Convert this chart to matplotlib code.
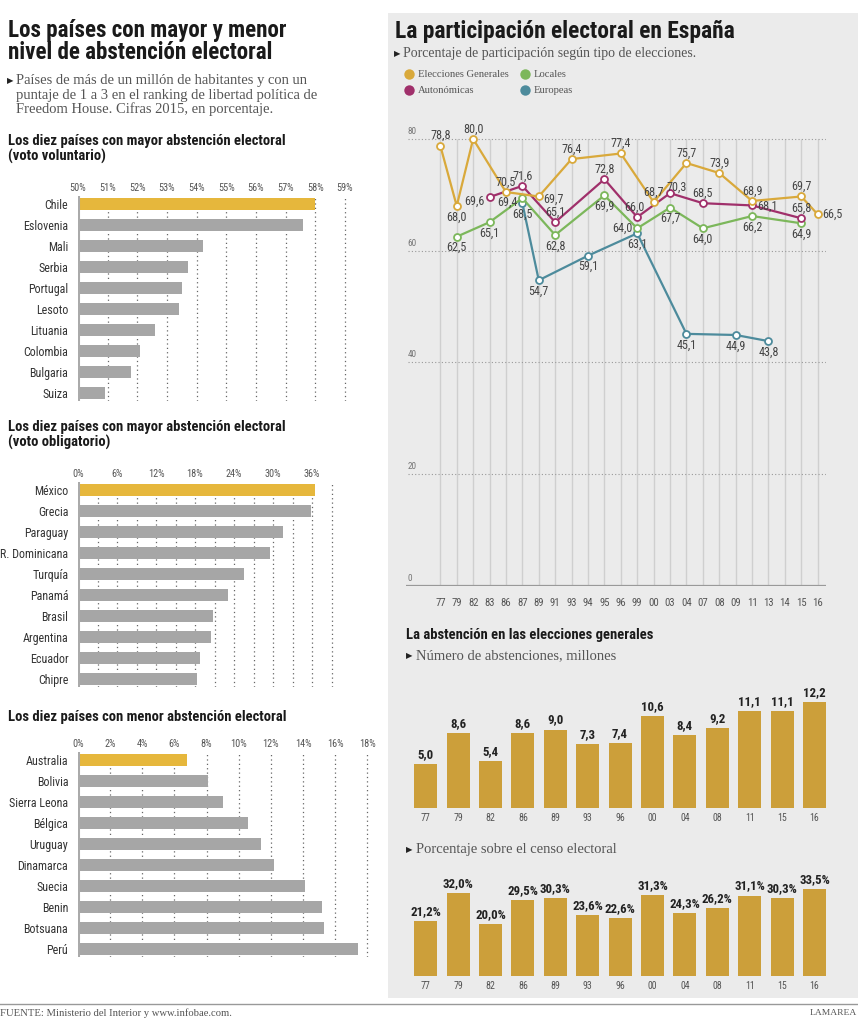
import matplotlib
matplotlib.use("Agg")
import matplotlib.pyplot as plt
from matplotlib.patches import Rectangle

W, H = 858, 1024

# ---- datos: paises (porcentaje de abstencion 2015)
vol_paises = ["Chile", "Eslovenia", "Mali", "Serbia", "Portugal", "Lesoto",
              "Lituania", "Colombia", "Bulgaria", "Suiza"]
vol_valores = [58.0, 57.6, 54.2, 53.7, 53.5, 53.4, 52.6, 52.1, 51.8, 50.9]

obl_paises = ["México", "Grecia", "Paraguay", "R. Dominicana", "Turquía",
              "Panamá", "Brasil", "Argentina", "Ecuador", "Chipre"]
obl_valores = [36.5, 35.9, 31.6, 29.6, 25.6, 23.0, 20.8, 20.5, 18.7, 18.3]

men_paises = ["Australia", "Bolivia", "Sierra Leona", "Bélgica", "Uruguay",
              "Dinamarca", "Suecia", "Benin", "Botsuana", "Perú"]
men_valores = [6.8, 8.1, 9.0, 10.6, 11.4, 12.2, 14.1, 15.2, 15.3, 17.4]

# ---- datos: participacion en España
anios = ["77", "79", "82", "83", "86", "87", "89", "91", "93", "94", "95", "96",
         "99", "00", "03", "04", "07", "08", "09", "11", "13", "14", "15", "16"]
gen_anios = ["77", "79", "82", "86", "89", "93", "96", "00", "04", "08", "11", "15", "16"]
gen_valores = [78.8, 68.0, 80.0, 70.5, 69.7, 76.4, 77.4, 68.7, 75.7, 73.9, 68.9, 69.7, 66.5]
aut_anios = ["83", "87", "91", "95", "99", "03", "07", "11", "15"]
aut_valores = [69.6, 71.6, 65.1, 72.8, 66.0, 70.3, 68.5, 68.1, 65.8]
loc_anios = ["79", "83", "87", "91", "95", "99", "03", "07", "11", "15"]
loc_valores = [62.5, 65.1, 69.4, 62.8, 69.9, 64.0, 67.7, 64.0, 66.2, 64.9]
eur_anios = ["87", "89", "94", "99", "04", "09", "13"]
eur_valores = [68.5, 54.7, 59.1, 63.1, 45.1, 44.9, 43.8]

# ---- datos: abstencion en generales
abs_anios = ["77", "79", "82", "86", "89", "93", "96", "00", "04", "08", "11", "15", "16"]
abs_millones = [5.0, 8.6, 5.4, 8.6, 9.0, 7.3, 7.4, 10.6, 8.4, 9.2, 11.1, 11.1, 12.2]
abs_porcentaje = [21.2, 32.0, 20.0, 29.5, 30.3, 23.6, 22.6, 31.3, 24.3, 26.2, 31.1, 30.3, 33.5]

COND = ["Roboto Condensed", "Liberation Sans Narrow", "Roboto", "DejaVu Sans"]
SERIF = ["Liberation Serif", "DejaVu Serif"]
AMARILLO = "#e6b73c"
GRIS = "#a6a6a6"
ORO = "#cc9f3a"
C_GEN, C_AUT, C_LOC, C_EUR = "#d9a93b", "#a0306b", "#7cb75b", "#4d8b9c"

fig = plt.figure(figsize=(W / 100, H / 100), dpi=100, facecolor="white")
renderer = fig.canvas.get_renderer()


def tam(muestra, ancho, family=COND, weight="normal"):
    # tamaño de letra para que 'muestra' mida 'ancho' pixeles
    t = fig.text(0, 0, muestra, fontsize=10, family=family, fontweight=weight)
    w = t.get_window_extent(renderer).width
    t.remove()
    return 10 * ancho / w


# tamaños
T_TIT = tam("Los países con mayor y menor", 279, weight="bold")
T_TIT_D = tam("La participación electoral en España", 340, weight="bold")
T_SEC = tam("Los diez países con mayor abstención electoral", 278, weight="bold")
T_SEC_D = tam("La abstención en las elecciones generales", 248, weight="bold")
T_SUB = tam("Países de más de un millón de habitantes y con un", 293, family=SERIF)
T_SUB_D = tam("Porcentaje de participación según tipo de elecciones.", 292, family=SERIF)
T_SUB_B = tam("Número de abstenciones, millones", 202, family=SERIF)
T_LEY = tam("Elecciones Generales", 91, family=SERIF)
T_PAIS = tam("Eslovenia", 43) * 1.05
T_TICK = tam("50%", 16.5)
T_LAB = tam("78,8", 18) * 1.12
T_Y = tam("80", 9)
T_ANIO = tam("77", 8.5) * 1.25
T_ANIO_B = tam("77", 7.5) * 1.3
T_VAL = tam("12,2", 22.7, weight="bold")
T_FUENTE = tam("FUENTE: Ministerio del Interior y www.infobae.com.", 233, family=SERIF)
T_MARCA = tam("LAMAREA", 47, family=SERIF)

# lienzo en pixeles para textos y fondos
bg = fig.add_axes([0, 0, 1, 1], zorder=0)
bg.set_xlim(0, W)
bg.set_ylim(H, 0)
bg.axis("off")
bg.add_patch(Rectangle((388, 13), W - 388, 985, color="#ebebeb", lw=0))
bg.plot([0, W], [1004, 1004], color="#999999", lw=1)


def px_axes(x0, y0, x1, y1):
    ax = fig.add_axes([x0 / W, 1 - y1 / H, (x1 - x0) / W, (y1 - y0) / H], zorder=2)
    ax.patch.set_alpha(0)
    for s in ax.spines.values():
        s.set_visible(False)
    return ax


def fmt(v, dec=1):
    return f"{v:.{dec}f}".replace(".", ",")


def titulo(x, y, s, size):
    bg.text(x, y, s, family=COND, fontweight="bold", fontsize=size, color="#1a1a1a", va="baseline")


def subtitulo(x, y, s, size, dx=9):
    bg.text(x, y - 1, "▶", family="DejaVu Sans", fontsize=6, color="#222222", va="baseline")
    bg.text(x + dx, y, s, family=SERIF, fontsize=size, color="#555555", va="baseline")


# ---------------- columna izquierda ----------------
titulo(8, 37, "Los países con mayor y menor", T_TIT)
titulo(8, 59, "nivel de abstención electoral", T_TIT)
subtitulo(7, 84, "Países de más de un millón de habitantes y con un", T_SUB)
bg.text(16, 99, "puntaje de 1 a 3 en el ranking de libertad política de", family=SERIF,
        fontsize=T_SUB, color="#555555", va="baseline")
bg.text(16, 113, "Freedom House. Cifras 2015, en porcentaje.", family=SERIF,
        fontsize=T_SUB, color="#555555", va="baseline")

titulo(8, 145, "Los diez países con mayor abstención electoral", T_SEC)
titulo(8, 161, "(voto voluntario)", T_SEC)
titulo(8, 431, "Los diez países con mayor abstención electoral", T_SEC)
titulo(8, 447, "(voto obligatorio)", T_SEC)
titulo(8, 721, "Los diez países con menor abstención electoral", T_SEC)


def barras_h(paises, valores, base, escala, ticks, grid, y0, x_fin):
    paso = 21.0
    top = y0 - 8
    bot = y0 + paso * (len(paises) - 1) + 8
    ax = px_axes(78, top, x_fin, bot)
    ax.set_xlim(base, base + (x_fin - 78) / escala)
    ax.set_ylim((bot - y0) / paso, -(y0 - top) / paso)
    colores = [AMARILLO] + [GRIS] * (len(valores) - 1)
    ax.barh(range(len(paises)), [v - base for v in valores], left=base,
            height=12.5 / paso, color=colores, zorder=2)
    for g in grid:
        ax.axvline(g, color="#666666", lw=0.9, ls=(0, (1, 2.5)), zorder=1)
    ax.axvline(base, color="#aaaaaa", lw=2.2, zorder=3)
    ax.set_yticks(range(len(paises)), paises)
    ax.xaxis.tick_top()
    ax.set_xticks(ticks, [f"{t}%" for t in ticks])
    ax.tick_params(axis="y", length=0, pad=7, labelsize=T_PAIS, labelcolor="#333333")
    ax.tick_params(axis="x", length=0, pad=2, labelsize=T_TICK, labelcolor="#555555")
    for lab in ax.get_xticklabels() + ax.get_yticklabels():
        lab.set_family(COND)
    return ax


barras_h(vol_paises, vol_valores, 50, 29.67, list(range(50, 60)), list(range(51, 60)), 204, 352)
barras_h(obl_paises, obl_valores, 0, 6.5, list(range(0, 37, 6)), list(range(3, 40, 3)), 490, 338)
barras_h(men_paises, men_valores, 0, 16.07, list(range(0, 19, 2)), list(range(2, 19, 2)), 760, 374)

bg.text(0, 1013, "FUENTE: Ministerio del Interior y www.infobae.com.", family=SERIF,
        fontsize=T_FUENTE, color="#555555", va="center")
bg.text(857, 1013, "LAMAREA", family=SERIF, fontsize=T_MARCA, color="#555555",
        va="center", ha="right")

# ---------------- columna derecha ----------------
titulo(395, 38, "La participación electoral en España", T_TIT_D)
subtitulo(394, 57, "Porcentaje de participación según tipo de elecciones.", T_SUB_D)

leyenda = [("Elecciones Generales", C_GEN, 409, 74), ("Locales", C_LOC, 525, 74),
           ("Autonómicas", C_AUT, 409, 90), ("Europeas", C_EUR, 525, 90)]
for nombre, col, lx, ly in leyenda:
    bg.plot(lx, ly, "o", ms=7.5, color=col, mec="none")
    bg.text(lx + 9, ly + 0.5, nombre, family=SERIF, fontsize=T_LEY, color="#555555", va="center")

paso_x = 16.4
x0_line, x1_line = 405.7, 825.7
ax = px_axes(x0_line, 120, x1_line, 585.7)
ax.set_xlim(-(440.3 - x0_line) / paso_x, 23 + (x1_line - 817.7) / paso_x)
ax.set_ylim(0, (585.7 - 120) / 5.584)
ax.vlines(range(len(anios)), 0, 80, color="#cfcfcf", lw=1, zorder=1)
for yv in (20, 40, 60, 80):
    ax.axhline(yv, xmin=0.005, color="#999999", lw=0.8, ls=(0, (1, 2)), zorder=1)
for yv in (0, 20, 40, 60, 80):
    ax.annotate(str(yv), (0.005, yv), xycoords=("axes fraction", "data"),
                xytext=(0, 3), textcoords="offset pixels", fontsize=T_Y,
                color="#777777", family=COND, va="bottom")
ax.axhline(0, color="#999999", lw=1.6, zorder=1)
ax.set_yticks([])
ax.set_xticks(range(len(anios)), anios)
ax.tick_params(axis="x", length=0, pad=9, labelsize=T_ANIO, labelcolor="#555555")
for lab in ax.get_xticklabels():
    lab.set_family(COND)

A = (0, 10, "center")
B = (0, -11, "center")
series = [
    (eur_anios, eur_valores, C_EUR, [B] * 7),
    (loc_anios, loc_valores, C_LOC,
     [B, B, (-5, -4, "right"), B, B, (-5, 0, "right"), B, B, B, B]),
    (aut_anios, aut_valores, C_AUT,
     [(-5, -4, "right"), A, A, A, (-3, 10, "center"), (7, 6, "center"), A, (5, -1, "left"), A]),
    (gen_anios, gen_valores, C_GEN,
     [A, B, A, A, (4, -3, "left"), A, A, A, A, A, A, A, (5, 0, "left")]),
]
for z, (ys, vs, col, pos) in enumerate(series):
    xs = [anios.index(a) for a in ys]
    ax.plot(xs, vs, color=col, lw=1.6, marker="o", ms=5, mfc="white", mec=col,
            mew=1.3, zorder=3 + z, clip_on=False)
    for xv, v, (dx, dy, ha) in zip(xs, vs, pos):
        ax.annotate(fmt(v), (xv, v), xytext=(dx, dy), textcoords="offset pixels",
                    ha=ha, va="center", fontsize=T_LAB, color="#444444", family=COND,
                    zorder=10, annotation_clip=False)

titulo(406, 639, "La abstención en las elecciones generales", T_SEC_D)
subtitulo(406, 659, "Número de abstenciones, millones", T_SUB_B, dx=10)
subtitulo(406, 853, "Porcentaje sobre el censo electoral", T_SUB_B, dx=10)


def barras_v(valores, y_base, escala, y_top, sufijo):
    ax = px_axes(x0_line, y_top, x1_line, y_base)
    paso = 32.4
    ax.set_xlim(-(425.7 - x0_line) / paso, (x1_line - 425.7) / paso)
    ax.set_ylim(0, (y_base - y_top) / escala)
    xs = range(len(valores))
    ax.bar(xs, valores, width=23 / paso, color=ORO, zorder=2)
    for xv, v in zip(xs, valores):
        ax.annotate(fmt(v) + sufijo, (xv, v), xytext=(0, 3), textcoords="offset pixels",
                    ha="center", va="bottom", fontsize=T_VAL, fontweight="bold",
                    color="#222222", family=COND)
    ax.set_yticks([])
    ax.set_xticks(list(xs), abs_anios)
    ax.tick_params(axis="x", length=0, pad=3.5, labelsize=T_ANIO_B, labelcolor="#555555")
    for lab in ax.get_xticklabels():
        lab.set_family(COND)


barras_v(abs_millones, 807.8, 8.69, 680, "")
barras_v(abs_porcentaje, 976.2, 2.593, 860, "%")

fig.savefig("out.png", dpi=100, facecolor="white")
